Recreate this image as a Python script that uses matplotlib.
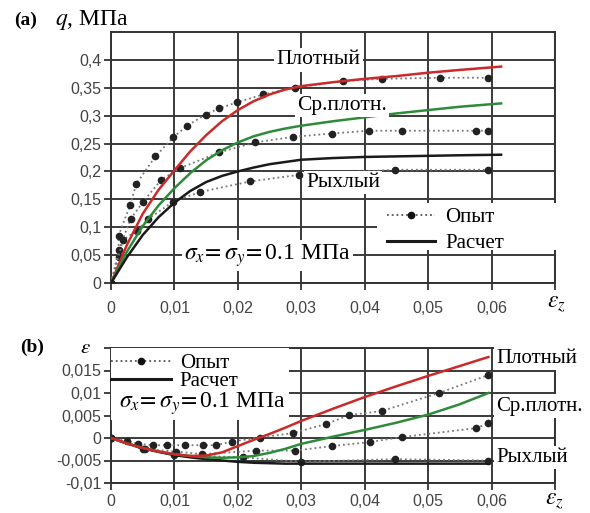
import matplotlib
matplotlib.use('Agg')
import matplotlib.pyplot as plt
from matplotlib.lines import Line2D
from matplotlib.patches import Rectangle

# ---- panel (a): q vs eps_z ----
calc_x_a = [0, 0.0025, 0.005, 0.0075, 0.01, 0.0125, 0.015, 0.0175, 0.02, 0.0225, 0.025,
            0.0275, 0.03, 0.035, 0.04, 0.045, 0.05, 0.055, 0.0615]
dense_calc_a = [0, 0.068, 0.124, 0.167, 0.202, 0.236, 0.265, 0.29, 0.31, 0.326, 0.338,
                0.347, 0.353, 0.36, 0.366, 0.371, 0.377, 0.382, 0.388]
mid_calc_a = [0, 0.056, 0.102, 0.139, 0.17, 0.197, 0.22, 0.238, 0.252, 0.263, 0.271,
              0.277, 0.282, 0.29, 0.297, 0.304, 0.31, 0.316, 0.322]
loose_calc_a = [0, 0.046, 0.086, 0.118, 0.144, 0.165, 0.181, 0.192, 0.2, 0.207, 0.213,
                0.217, 0.221, 0.224, 0.226, 0.227, 0.228, 0.229, 0.23]

dense_exp_x_a = [0, 0.0012, 0.0012, 0.003, 0.004, 0.007, 0.0098, 0.012, 0.0149, 0.017,
                 0.0199, 0.024, 0.029, 0.0365, 0.0427, 0.0518, 0.0595]
dense_exp_a = [0, 0.047, 0.085, 0.139, 0.178, 0.227, 0.261, 0.282, 0.302, 0.313,
               0.324, 0.338, 0.35, 0.362, 0.366, 0.368, 0.368]
mid_exp_x_a = [0, 0.0012, 0.0031, 0.0051, 0.0079, 0.0109, 0.017, 0.0227, 0.0287,
               0.0348, 0.0406, 0.0458, 0.0576, 0.0595]
mid_exp_a = [0, 0.059, 0.115, 0.146, 0.185, 0.206, 0.234, 0.252, 0.262,
             0.268, 0.273, 0.273, 0.273, 0.273]
loose_exp_x_a = [0, 0.0019, 0.0041, 0.0059, 0.0098, 0.014, 0.0219, 0.0297, 0.0447, 0.0595]
loose_exp_a = [0, 0.077, 0.094, 0.115, 0.146, 0.163, 0.182, 0.194, 0.203, 0.203]

# ---- panel (b): eps vs eps_z ----
calc_x_b = [0, 0.0025, 0.005, 0.0075, 0.01, 0.0125, 0.015, 0.0175, 0.02, 0.0225, 0.025,
            0.0275, 0.03, 0.035, 0.04, 0.045, 0.05, 0.055, 0.0595]
dense_calc_b = [0, -0.0012, -0.0022, -0.003, -0.0036, -0.004, -0.0039, -0.0032, -0.0018,
                -0.0004, 0.0009, 0.0023, 0.0038, 0.0065, 0.0091, 0.0115, 0.0138, 0.016, 0.018]
mid_calc_b = [0, -0.0012, -0.0022, -0.003, -0.0036, -0.004, -0.0043, -0.0044, -0.0043,
              -0.004, -0.0033, -0.0024, -0.0013, 0.0003, 0.0018, 0.0034, 0.0052, 0.0075, 0.01]
loose_calc_b = [0, -0.0012, -0.0023, -0.0031, -0.0038, -0.0043, -0.0047, -0.005, -0.0053,
                -0.0055, -0.0056, -0.0057, -0.0057, -0.0057, -0.0057, -0.0057, -0.0057,
                -0.0057, -0.0057]

dense_exp_x_b = [0, 0.0025, 0.0043, 0.0067, 0.0088, 0.0117, 0.0145, 0.0166, 0.019, 0.0235,
                 0.0287, 0.0339, 0.0376, 0.0427, 0.0517, 0.0595]
dense_exp_b = [0, -0.0006, -0.0013, -0.0016, -0.0016, -0.0016, -0.0016, -0.0016, -0.0008,
               0.0001, 0.0011, 0.0031, 0.0051, 0.006, 0.01, 0.014]
mid_exp_x_b = [0, 0.0054, 0.0103, 0.0143, 0.0229, 0.029, 0.0348, 0.0408, 0.0458, 0.0576, 0.0595]
mid_exp_b = [0, -0.0025, -0.003, -0.0036, -0.0028, -0.0028, -0.0018, -0.0009, 0.0002,
             0.0022, 0.0033]
loose_exp_x_b = [0, 0.005, 0.01, 0.0208, 0.03, 0.0447, 0.0595]
loose_exp_b = [0, -0.0025, -0.0038, -0.0043, -0.0053, -0.0047, -0.005]

x_ticks = [0, 0.01, 0.02, 0.03, 0.04, 0.05, 0.06, 0.07]
x_labels = ['0', '0,01', '0,02', '0,03', '0,04', '0,05', '0,06', '']
y_ticks_a = [0, 0.05, 0.1, 0.15, 0.2, 0.25, 0.3, 0.35, 0.4]
y_labels_a = ['0', '0,05', '0,1', '0,15', '0,2', '0,25', '0,3', '0,35', '0,4']
y_ticks_b = [-0.01, -0.005, 0, 0.005, 0.01, 0.015, 0.02]
y_labels_b = ['-0,01', '-0,005', '0', '0,005', '0,01', '0,015', '']

RED = '#cc2a2a'
GREEN = '#2e8b3a'
BLACK = '#1a1a1a'
SERIF = 'Liberation Serif'
SANS = 'Liberation Sans'

plt.rcParams['mathtext.fontset'] = 'stix'

W, H = 590, 513
fig = plt.figure(figsize=(W / 100, H / 100), dpi=100)
ax_a = fig.add_axes([111 / W, 1 - 283 / H, 444 / W, 251 / H])
ax_b = fig.add_axes([111 / W, 1 - 483 / H, 444 / W, 135 / H])


def style_axes(ax, yticks, ylabels, ylim, xpad):
    ax.set_xlim(0, 0.07)
    ax.set_ylim(*ylim)
    ax.set_xticks(x_ticks)
    ax.set_xticklabels(x_labels)
    ax.set_yticks(yticks)
    ax.set_yticklabels(ylabels)
    ax.tick_params(direction='out', length=5, width=1.3, color='#333',
                   labelsize=11.5, labelcolor='#444')
    ax.tick_params(axis='x', pad=xpad)
    ax.tick_params(axis='y', pad=2)
    for lab in ax.get_xticklabels() + ax.get_yticklabels():
        lab.set_fontfamily(SANS)
    ax.grid(True, color='#3a3a3a', linewidth=1.4)
    ax.set_axisbelow(True)
    for s in ax.spines.values():
        s.set_color('#333')
        s.set_linewidth(1.4)


def draw_exp(ax, x, y):
    ax.plot(x, y, linestyle=':', color='#777', linewidth=1.3, marker='o',
            markersize=4.5, markerfacecolor='#222', markeredgecolor='#222', zorder=4)


style_axes(ax_a, y_ticks_a, y_labels_a, (0, 0.45), 8)
style_axes(ax_b, y_ticks_b, y_labels_b, (-0.01, 0.02), 3)

# panel (a)
for xs, ys in [(dense_exp_x_a, dense_exp_a), (mid_exp_x_a, mid_exp_a),
               (loose_exp_x_a, loose_exp_a)]:
    draw_exp(ax_a, xs, ys)
ax_a.plot(calc_x_a, dense_calc_a, color=RED, lw=1.8, zorder=5)
ax_a.plot(calc_x_a, mid_calc_a, color=GREEN, lw=1.8, zorder=5)
ax_a.plot(calc_x_a, loose_calc_a, color=BLACK, lw=1.8, zorder=5)

white = dict(facecolor='white', edgecolor='none', pad=1.5)
lab_kw = dict(family=SERIF, fontsize=15.5, va='center', bbox=white, zorder=6)
ax_a.text(0.0327, 0.4, 'Плотный', ha='center', **lab_kw)
ax_a.text(0.0364, 0.318, 'Ср.плотн.', ha='center', **lab_kw)
ax_a.text(0.0366, 0.18, 'Рыхлый', ha='center', **lab_kw)
ax_a.text(0.0115, 0.05, r'$\sigma_x\! = \sigma_y\! =$0.1 МПа', family=SERIF, fontsize=17,
          ha='left', va='center', bbox=white, zorder=6)

ax_a.add_patch(Rectangle((0.6, 0.13), 0.41, 0.19, transform=ax_a.transAxes,
                         facecolor='white', edgecolor='none', zorder=3, clip_on=False))
handles = [Line2D([], [], linestyle=':', color='#555', lw=1.3, marker='o', markersize=4.5,
                  markerfacecolor='#111', markeredgecolor='#111'),
           Line2D([], [], color=BLACK, lw=2.2)]
leg_a = ax_a.legend(handles, ['Опыт', 'Расчет'], loc='center left',
                    bbox_to_anchor=(0.622, 0.21), frameon=False,
                    prop={'family': SERIF, 'size': 15},
                    handlelength=2.3, handletextpad=0.5, labelspacing=0.3, borderaxespad=0,
                    borderpad=0)
leg_a.set_zorder(7)

# panel (b)
for xs, ys in [(dense_exp_x_b, dense_exp_b), (mid_exp_x_b, mid_exp_b),
               (loose_exp_x_b, loose_exp_b)]:
    draw_exp(ax_b, xs, ys)
ax_b.plot(calc_x_b, loose_calc_b, color=BLACK, lw=1.8, zorder=5)
ax_b.plot(calc_x_b, mid_calc_b, color=GREEN, lw=1.8, zorder=5)
ax_b.plot(calc_x_b, dense_calc_b, color=RED, lw=1.8, zorder=5)

ax_b.add_patch(Rectangle((0.0, 0.47), 0.40, 0.53, transform=ax_b.transAxes,
                         facecolor='white', edgecolor='none', zorder=3))
leg_b = ax_b.legend(handles, ['Опыт', 'Расчет'], loc='center left',
                    bbox_to_anchor=(0.0, 0.82), frameon=False,
                    prop={'family': SERIF, 'size': 15},
                    handlelength=2.9, handletextpad=0.4, labelspacing=-0.1, borderaxespad=0,
                    borderpad=0)
leg_b.set_zorder(7)
ax_b.text(0.0013, 0.0077, r'$\sigma_x\! = \sigma_y\! =$0.1 МПа', family=SERIF, fontsize=17,
          ha='left', va='center', zorder=7)

for txt, yv in [('Плотный', 0.0176), ('Ср.плотн.', 0.0071), ('Рыхлый', -0.0043)]:
    ax_b.text(0.0607, yv, txt, ha='left', clip_on=False, **dict(lab_kw, fontsize=15))

# outer labels
fig.text(14 / W, 1 - 20 / H, '(a)', family=SERIF, fontsize=14, weight='bold', va='center')
fig.text(55 / W, 1 - 20 / H, r'$q$, МПа', family=SERIF, fontsize=17, va='center')
fig.text(547 / W, 1 - 303 / H, r'$\varepsilon_z$', fontsize=17, va='center')
fig.text(20 / W, 1 - 347 / H, '(b)', family=SERIF, fontsize=14, weight='bold', va='center')
fig.text(80 / W, 1 - 347 / H, r'$\varepsilon$', fontsize=15, va='center')
fig.text(545 / W, 1 - 500 / H, r'$\varepsilon_z$', fontsize=17, va='center')

fig.savefig('out.png', dpi=100)
